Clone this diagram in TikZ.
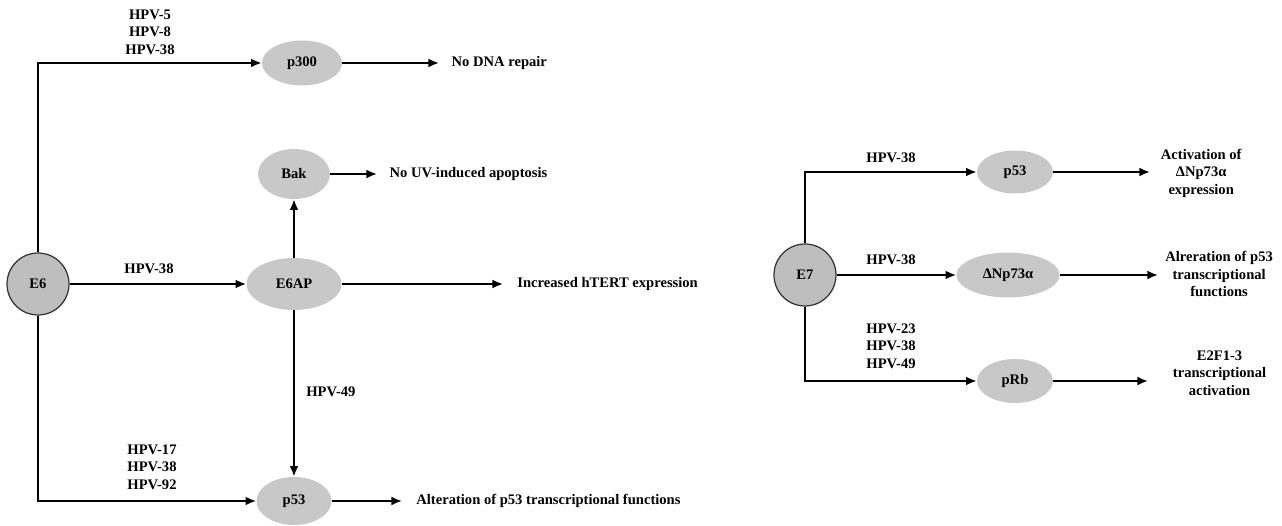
\documentclass[tikz,border=0pt]{standalone}
\usepackage{fontspec}
\setmainfont{Liberation Serif}
\usetikzlibrary{arrows.meta, shapes.geometric}
\definecolor{protfill}{HTML}{C8C8C8}
\definecolor{oncofill}{HTML}{BEBEBE}

\begin{document}
\begin{tikzpicture}[x=0.02cm, y=-0.02cm,
        every node/.style={font=\bfseries\fontsize{8.3}{10}\selectfont},
        prot/.style={ellipse, fill=protfill, inner sep=0pt},
        onco/.style={circle, fill=oncofill, draw=black!80, line width=0.7pt, minimum size=1.24cm, inner sep=0pt},
        hpv/.style={align=center, inner sep=0pt},
        outcome/.style={anchor=west, inner xsep=7pt, align=center},
        arr/.style={line width=1.1pt, -{Latex[length=6pt, width=5pt]}},
        ln/.style={line width=1.1pt}]
        \useasboundingbox (0,0) rectangle (1282,526);
        \node[onco] (e6) at (38,284) {E6};
        \node[prot, minimum width=1.6cm, minimum height=0.9cm] (p300) at (302,63) {p300};
        \node[prot, minimum width=1.44cm, minimum height=1cm] (bak) at (294,174) {Bak};
        \node[prot, minimum width=1.9cm, minimum height=1.04cm] (e6ap) at (294,284) {E6AP};
        \node[prot, minimum width=1.5cm, minimum height=0.96cm] (p53a) at (294,501) {p53};
        \node[outcome] (norepair) at (439,63) {No DNA repair};
        \node[outcome] (noapop) at (377,174) {No UV-induced apoptosis};
        \node[outcome, inner xsep=8pt] (htert) at (503,284) {Increased hTERT expression};
        \node[outcome, inner xsep=8pt] (alter) at (402,501) {Alteration of p53 transcriptional functions};
        \node[hpv] (hpvtop) at (150,32) {HPV-5\\HPV-8\\HPV-38};
        \node[hpv] (hpvmid) at (149,269) {HPV-38};
        \node[hpv, anchor=west] (hpvdown) at (306,392) {HPV-49};
        \node[hpv] (hpvlow) at (152,467) {HPV-17\\HPV-38\\HPV-92};
        \draw[arr] (e6.north) |- (p300.west);
        \draw[arr] (e6.east) -- (e6ap.west);
        \draw[arr] (e6.south) |- (p53a.west);
        \draw[arr] (e6ap.north) -- (bak.south);
        \draw[arr] (e6ap.south) -- (p53a.north);
        \draw[arr] (p300.east) -- (norepair.west);
        \draw[arr] (bak.east) -- (noapop.west);
        \draw[arr] (e6ap.east) -- (htert.west);
        \draw[arr] (p53a.east) -- (alter.west);

        \node[onco] (e7) at (805,275) {E7};
        \node[prot, minimum width=1.52cm, minimum height=0.86cm] (p53b) at (1015,172) {p53};
        \node[prot, minimum width=2.06cm, minimum height=0.9cm] (dnp) at (1008,275) {ΔNp73α};
        \node[prot, minimum width=1.52cm, minimum height=0.88cm] (prb) at (1015,381) {pRb};
        \node[outcome, inner xsep=6pt] (act) at (1150,173) {Activation of\\ΔNp73α\\expression};
        \node[outcome, inner xsep=4pt] (alr) at (1158,274) {Alreration of p53\\transcriptional\\functions};
        \node[outcome, inner xsep=14pt] (e2f) at (1148,373) {E2F1-3\\transcriptional\\activation};
        \node[hpv] (hpvp53) at (891,158) {HPV-38};
        \node[hpv] (hpvdnp) at (891,260) {HPV-38};
        \node[hpv] (hpvprb) at (891,346) {HPV-23\\HPV-38\\HPV-49};
        \draw[arr] (e7.north) |- (p53b.west);
        \draw[arr] (e7.east) -- (dnp.west);
        \draw[arr] (e7.south) |- (prb.west);
        \draw[arr] (p53b.east) -- (p53b.east -| act.west);
        \draw[arr] (dnp.east) -- (dnp.east -| alr.west);
        \draw[arr] (prb.east) -- (prb.east -| e2f.west);
    \end{tikzpicture}
\end{document}
